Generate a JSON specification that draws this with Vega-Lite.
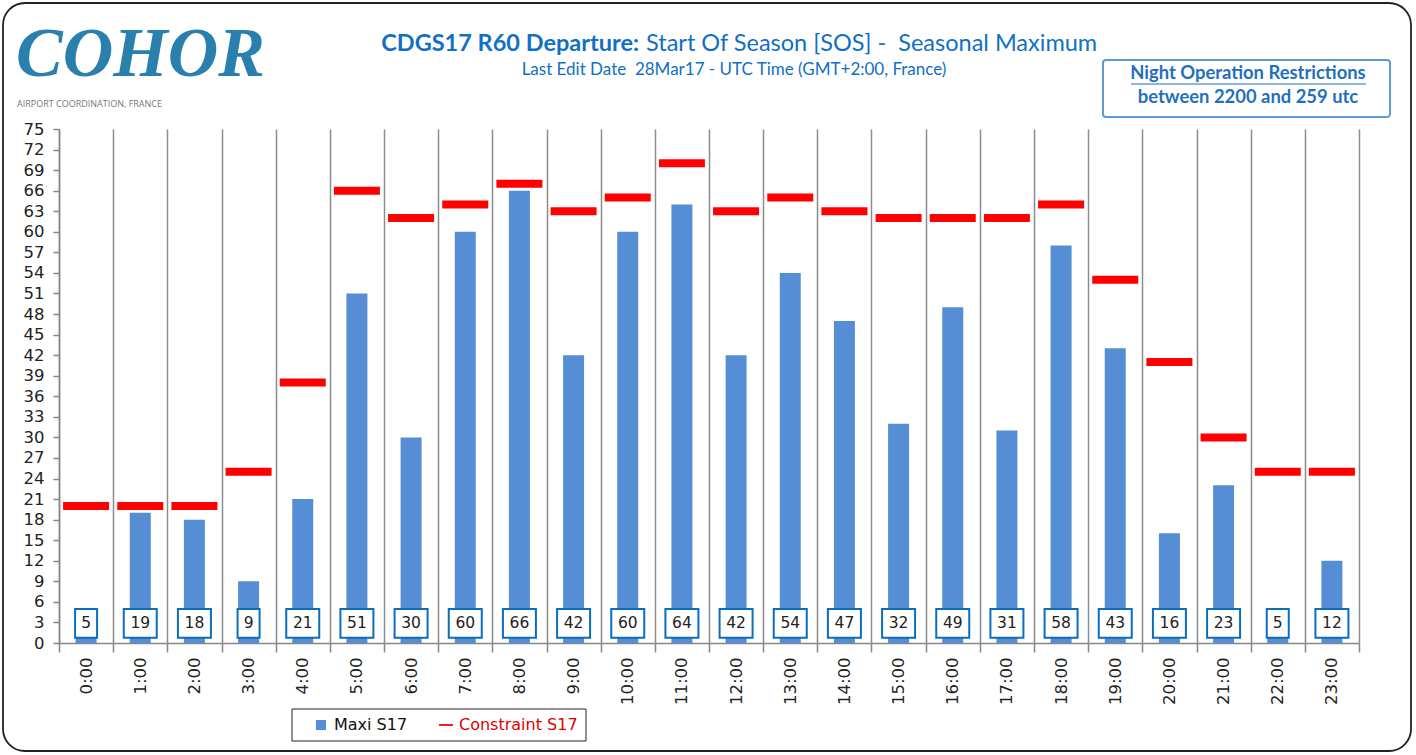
{
  "$schema": "https://vega.github.io/schema/vega-lite/v6.json",
  "width": 1300,
  "height": 514,
  "autosize": {"type": "none"},
  "padding": {"left": 59, "top": 129, "right": 57, "bottom": 112},
  "background": "white",
  "config": {
    "view": {"stroke": null},
    "font": "DejaVu Sans",
    "axisX": {
      "title": null, "labelAngle": -90, "labelFontSize": 16.5, "labelColor": "#222222", "labelFont": "DejaVu Sans",
      "domainColor": "#868686", "domainWidth": 1.5, "tickColor": "#868686", "tickWidth": 1.5, "tickSize": 9,
      "tickBand": "extent", "grid": true, "gridColor": "#8c8c8c", "gridWidth": 1.5, "labelPadding": 5
    },
    "axisY": {
      "title": null, "labelFontSize": 16.5, "labelColor": "#222222", "labelFont": "DejaVu Sans",
      "domainColor": "#868686", "domainWidth": 1.5, "tickColor": "#868686", "tickWidth": 1.5, "tickSize": 6,
      "grid": false, "labelPadding": 9, "labelOverlap": false, "labelBound": false
    },
    "legend": {
      "title": null, "orient": "none", "legendX": 254, "legendY": 588, "direction": "horizontal",
      "padding": 0, "labelFontSize": 16, "labelFont": "DejaVu Sans", "columnPadding": 28, "labelOffset": 5,
      "symbolSize": 100
    }
  },
  "data": {
    "values": [
      {"hour": "0:00", "maxi": 5, "constraint": 20},
      {"hour": "1:00", "maxi": 19, "constraint": 20},
      {"hour": "2:00", "maxi": 18, "constraint": 20},
      {"hour": "3:00", "maxi": 9, "constraint": 25},
      {"hour": "4:00", "maxi": 21, "constraint": 38},
      {"hour": "5:00", "maxi": 51, "constraint": 66},
      {"hour": "6:00", "maxi": 30, "constraint": 62},
      {"hour": "7:00", "maxi": 60, "constraint": 64},
      {"hour": "8:00", "maxi": 66, "constraint": 67},
      {"hour": "9:00", "maxi": 42, "constraint": 63},
      {"hour": "10:00", "maxi": 60, "constraint": 65},
      {"hour": "11:00", "maxi": 64, "constraint": 70},
      {"hour": "12:00", "maxi": 42, "constraint": 63},
      {"hour": "13:00", "maxi": 54, "constraint": 65},
      {"hour": "14:00", "maxi": 47, "constraint": 63},
      {"hour": "15:00", "maxi": 32, "constraint": 62},
      {"hour": "16:00", "maxi": 49, "constraint": 62},
      {"hour": "17:00", "maxi": 31, "constraint": 62},
      {"hour": "18:00", "maxi": 58, "constraint": 64},
      {"hour": "19:00", "maxi": 43, "constraint": 53},
      {"hour": "20:00", "maxi": 16, "constraint": 41},
      {"hour": "21:00", "maxi": 23, "constraint": 30},
      {"hour": "22:00", "maxi": 5, "constraint": 25},
      {"hour": "23:00", "maxi": 12, "constraint": 25}
    ]
  },
  "encoding": {
    "x": {
      "field": "hour", "type": "nominal",
      "scale": {"domain": ["0:00","1:00","2:00","3:00","4:00","5:00","6:00","7:00","8:00","9:00","10:00","11:00","12:00","13:00","14:00","15:00","16:00","17:00","18:00","19:00","20:00","21:00","22:00","23:00"], "paddingInner": 0, "paddingOuter": 0}
    }
  },
  "layer": [
    {
      "data": {"values": [{"k": 1}]},
      "mark": {"type": "rect", "cornerRadius": 22, "fill": "transparent", "stroke": "#222222", "strokeWidth": 1.8},
      "encoding": {"x": {"value": -56}, "x2": {"value": 1352}, "y": {"value": -126}, "y2": {"value": 622}}
    },
    {
      "mark": {"type": "bar", "size": 21},
      "encoding": {
        "y": {"field": "maxi", "type": "quantitative", "scale": {"domain": [0, 75], "nice": false, "zero": true},
              "axis": {"labelOverlap": false, "labelBound": false, "values": [0,3,6,9,12,15,18,21,24,27,30,33,36,39,42,45,48,51,54,57,60,63,66,69,72,75]}},
        "color": {
          "datum": "Maxi S17", "type": "nominal",
          "scale": {"domain": ["Maxi S17", "Constraint S17"], "range": ["#558ed5", "#ff0000"]},
          "legend": {
            "encode": {
              "symbols": {"update": {
                "shape": {"signal": "datum.label === 'Constraint S17' ? 'M-1.4,-0.18H1.4V0.18H-1.4Z' : 'square'"},
                "fill": {"signal": "datum.label === 'Constraint S17' ? '#ff0000' : '#558ed5'"},
                "stroke": {"value": "transparent"}, "opacity": {"value": 1}, "fillOpacity": {"value": 1}
              }},
              "labels": {"update": {
                "fill": {"signal": "datum.label === 'Constraint S17' ? '#e00000' : '#111111'"}
              }}
            }
          }
        }
      }
    },
    {
      "mark": {"type": "tick", "thickness": 8, "size": 46, "opacity": 1},
      "encoding": {
        "y": {"field": "constraint", "type": "quantitative", "axis": {"labelOverlap": false, "labelBound": false, "values": [0,3,6,9,12,15,18,21,24,27,30,33,36,39,42,45,48,51,54,57,60,63,66,69,72,75]}},
        "color": {"datum": "Constraint S17", "type": "nominal",
          "legend": {
            "encode": {
              "symbols": {"update": {
                "shape": {"signal": "datum.label === 'Constraint S17' ? 'M-1.4,-0.18H1.4V0.18H-1.4Z' : 'square'"},
                "fill": {"signal": "datum.label === 'Constraint S17' ? '#ff0000' : '#558ed5'"},
                "stroke": {"value": "transparent"}, "opacity": {"value": 1}, "fillOpacity": {"value": 1}
              }},
              "labels": {"update": {
                "fill": {"signal": "datum.label === 'Constraint S17' ? '#e00000' : '#111111'"}
              }}
            }
          }
        }
      }
    },
    {
      "mark": {"type": "bar", "fill": "white", "stroke": "#0a6ebd", "strokeWidth": 2},
      "encoding": {
        "y": {"datum": 0.75, "type": "quantitative", "axis": {"labelOverlap": false, "labelBound": false, "values": [0,3,6,9,12,15,18,21,24,27,30,33,36,39,42,45,48,51,54,57,60,63,66,69,72,75]}},
        "y2": {"datum": 4.95},
        "size": {"field": "maxi", "type": "quantitative", "scale": {"type": "threshold", "domain": [10], "range": [22, 33]}, "legend": null}
      }
    },
    {
      "mark": {"type": "text", "fontSize": 15.5, "font": "DejaVu Sans", "color": "#222222", "baseline": "middle"},
      "encoding": {
        "y": {"datum": 2.85, "type": "quantitative", "axis": {"labelOverlap": false, "labelBound": false, "values": [0,3,6,9,12,15,18,21,24,27,30,33,36,39,42,45,48,51,54,57,60,63,66,69,72,75]}},
        "text": {"field": "maxi", "type": "quantitative"}
      }
    },
    {
      "data": {"values": [{"k": 1}]},
      "mark": {"type": "rect", "fill": "white", "stroke": "#222222", "strokeWidth": 1},
      "encoding": {"x": {"value": 233}, "x2": {"value": 527}, "y": {"value": 580}, "y2": {"value": 612}}
    },
    {
      "data": {"values": [{"t": "COHOR"}]},
      "mark": {"type": "text", "font": "Liberation Serif", "fontStyle": "italic", "fontWeight": "bold", "fontSize": 70, "color": "#2a80ad", "align": "left", "baseline": "alphabetic"},
      "encoding": {"x": {"value": -43}, "y": {"value": -53}, "text": {"field": "t"}}
    },
    {
      "data": {"values": [{"t": "AIRPORT COORDINATION, FRANCE"}]},
      "mark": {"type": "text", "font": "Open Sans", "fontSize": 9, "color": "#777777", "align": "left", "baseline": "middle"},
      "encoding": {"x": {"value": -42}, "y": {"value": -25}, "text": {"field": "t"}}
    },
    {
      "data": {"values": [{"t": "CDGS17 R60 Departure:"}]},
      "mark": {"type": "text", "font": "Lato", "fontWeight": "bold", "fontSize": 23.5, "color": "#1070c4", "align": "right", "baseline": "middle"},
      "encoding": {"x": {"value": 580}, "y": {"value": -85}, "text": {"field": "t"}}
    },
    {
      "data": {"values": [{"t": "Start Of Season [SOS] -\u00a0 Seasonal Maximum"}]},
      "mark": {"type": "text", "font": "Lato", "fontSize": 23.5, "color": "#1070c4", "align": "left", "baseline": "middle"},
      "encoding": {"x": {"value": 587}, "y": {"value": -85}, "text": {"field": "t"}}
    },
    {
      "data": {"values": [{"t": "Last Edit Date \u00a028Mar17 - UTC Time (GMT+2:00, France)"}]},
      "mark": {"type": "text", "font": "Lato", "fontSize": 17, "color": "#1070c4", "align": "center", "baseline": "middle"},
      "encoding": {"x": {"value": 675}, "y": {"value": -59}, "text": {"field": "t"}}
    },
    {
      "data": {"values": [{"k": 1}]},
      "mark": {"type": "rect", "fill": "white", "stroke": "#5b9bd5", "strokeWidth": 2, "cornerRadius": 3},
      "encoding": {"x": {"value": 1044}, "x2": {"value": 1331}, "y": {"value": -69}, "y2": {"value": -12}}
    },
    {
      "data": {"values": [{"t": "Night Operation Restrictions"}]},
      "mark": {"type": "text", "font": "Lato", "fontWeight": "bold", "fontSize": 18.4, "color": "#1f6fbf", "align": "center", "baseline": "middle"},
      "encoding": {"x": {"value": 1189}, "y": {"value": -56}, "text": {"field": "t"}}
    },
    {
      "data": {"values": [{"k": 1}]},
      "mark": {"type": "rule", "stroke": "#1f6fbf", "strokeWidth": 1.2},
      "encoding": {"x": {"value": 1072}, "x2": {"value": 1307}, "y": {"value": -45}}
    },
    {
      "data": {"values": [{"t": "between 2200 and 259 utc"}]},
      "mark": {"type": "text", "font": "Lato", "fontWeight": "bold", "fontSize": 18.4, "color": "#1f6fbf", "align": "center", "baseline": "middle"},
      "encoding": {"x": {"value": 1189}, "y": {"value": -32}, "text": {"field": "t"}}
    }
  ]
}
